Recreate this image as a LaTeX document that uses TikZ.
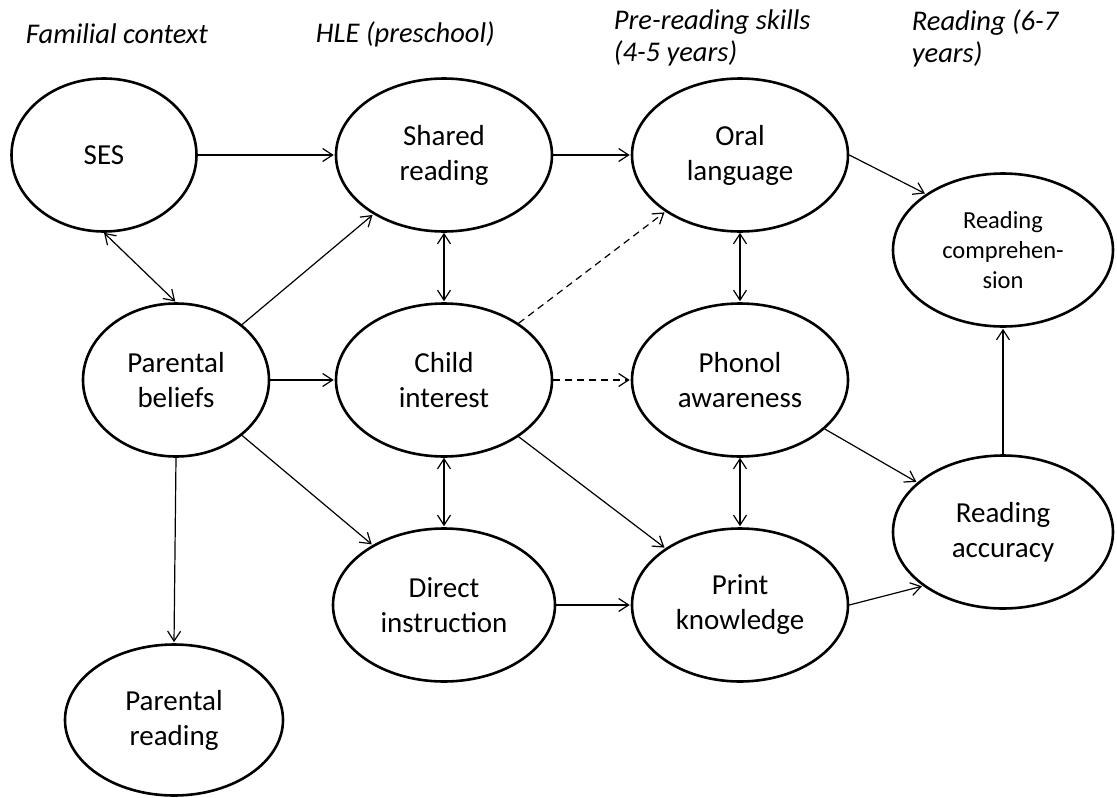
\documentclass[tikz,border=0pt]{standalone}
\usepackage{fontspec}
\setmainfont{Carlito}
\usetikzlibrary{shapes.geometric,arrows.meta}

\begin{document}
\begin{tikzpicture}[->,>={Straight Barb[length=10pt,width=13pt]},shorten >=1pt,
            x=1pt,y=1pt,node distance=225pt,line width=1.2pt,
            main node/.style={draw,ellipse,line width=2.6pt,inner sep=0pt,
              minimum width=216pt,minimum height=153pt,align=center,
              font=\fontsize{29}{35}\selectfont},
            head/.style={anchor=west,align=left,font=\fontsize{28.5}{32}\selectfont\itshape}]

        \useasboundingbox (0,0) rectangle (1117,-798);

        % Column headings
        \node[head] (h1) at (22,-34) {Familial context};
        \node[head] (h2) at (312,-34) {HLE (preschool)};
        \node[head] (h3) at (610,-38) {Pre-reading skills\\(4-5 years)};
        \node[head] (h4) at (908,-38) {Reading (6-7\\years)};

        % Define vertices
        \node[main node,minimum width=185pt] (ses) at (104,-155) {SES};
        \node[main node,minimum width=186pt] (pb) at (176,-380) {Parental\\beliefs};
        \node[main node,minimum width=218pt,minimum height=151pt] (pr) at (174,-720) {Parental\\reading};
        \node[main node] (shared) at (444,-155) {Shared\\reading};
        \node[main node] (ci) [below of=shared] {Child\\interest};
        \node[main node,minimum width=222pt] (di) [below of=ci] {Direct\\instruction};
        \node[main node] (oral) at (740,-155) {Oral\\language};
        \node[main node] (phonol) [below of=oral] {Phonol\\awareness};
        \node[main node] (pk) [below of=phonol] {Print\\knowledge};
        \node[main node,minimum width=220pt,font=\fontsize{24.5}{30}\selectfont] (rc) at (1003,-250) {Reading\\comprehen-\\sion};
        \node[main node,minimum width=220pt] (ra) at (1003,-532) {Reading\\accuracy};

        % Draw edges
        \path
            (ses) edge (shared)
            (shared) edge (oral)
            (oral.east) edge (rc.144)
            (ses.south) edge[<->] (pb.north)
            (pb) edge (shared)
            (shared.south) edge[<->] (ci.north)
            (pb) edge (ci)
            (ci) edge[dash pattern=on 7pt off 5pt] (oral)
            (ci) edge[dash pattern=on 7pt off 5pt] (phonol)
            (ci) edge (pk)
            (pb) edge (di)
            (pb.south) edge (pr.north)
            (ci.south) edge[<->] (di.north)
            (oral) edge[<->] (phonol)
            (phonol) edge[<->] (pk)
            (di) edge (pk)
            (phonol) edge (ra)
            (pk.east) edge (ra.214)
            (ra) edge (rc);

        \end{tikzpicture}
\end{document}
